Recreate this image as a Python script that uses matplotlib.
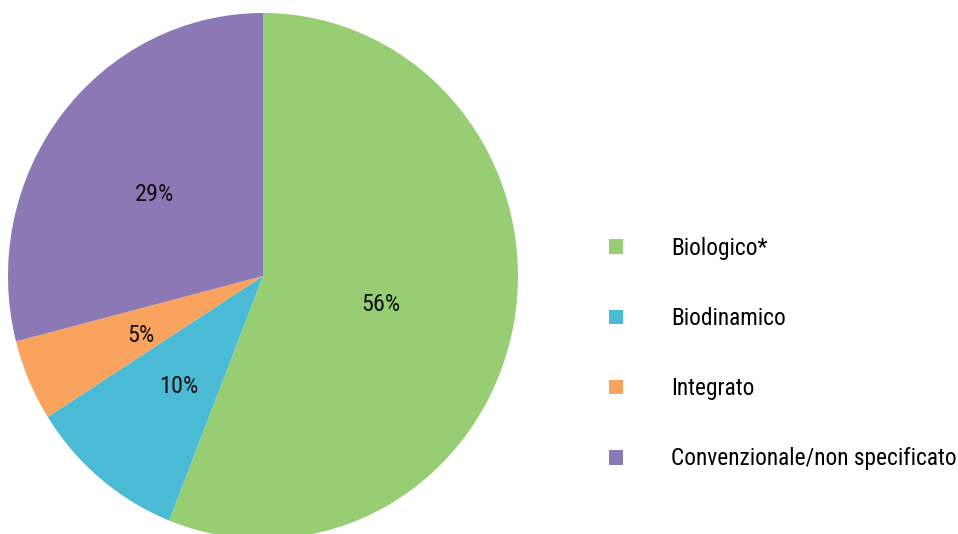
import matplotlib
matplotlib.use("Agg")
import matplotlib.pyplot as plt
import numpy as np

categories = ["Biologico*", "Biodinamico", "Integrato", "Convenzionale/non specificato"]
values = [56, 10, 5, 29]
colors = ["#97CD73", "#4BBBD5", "#F9A35F", "#8B78B5"]

plt.rcParams['font.family'] = ['Roboto Condensed', 'Liberation Sans Narrow', 'DejaVu Sans']

W, H = 958, 534
fig = plt.figure(figsize=(W / 100, H / 100), dpi=100)
# pie area: x 8..518, y 13..539 (image px)
ax = fig.add_axes([8 / W, (H - 539) / H, 510 / W, 526 / H])
wedges, texts, autotexts = ax.pie(
    values, colors=colors, startangle=90, counterclock=False,
    autopct=lambda p: f"{p:.0f}%", pctdistance=0.52,
    wedgeprops=dict(linewidth=0),
    textprops=dict(fontsize=17.5, color="#111111"),
)
# label placement tweak (radius per wedge, small downward offset)
label_r = [0.47, 0.52, 0.52, 0.54]
for w, t, r in zip(wedges, autotexts, label_r):
    ang = np.deg2rad((w.theta1 + w.theta2) / 2)
    t.set_position((r * np.cos(ang), r * np.sin(ang) - 0.02))
ax.set_aspect('auto')
ax.set_xlim(-1, 1)
ax.set_ylim(-1, 1)
ax.axis('off')

leg = fig.legend(
    wedges, categories, loc="upper left",
    bbox_to_anchor=(609 / W, 1 - 237 / H),
    frameon=False, fontsize=16.8,
    handlelength=0.6, handleheight=0.6, handletextpad=2.05,
    labelspacing=2.02, borderpad=0, borderaxespad=0,
)
fig.savefig("out.png", dpi=100)
